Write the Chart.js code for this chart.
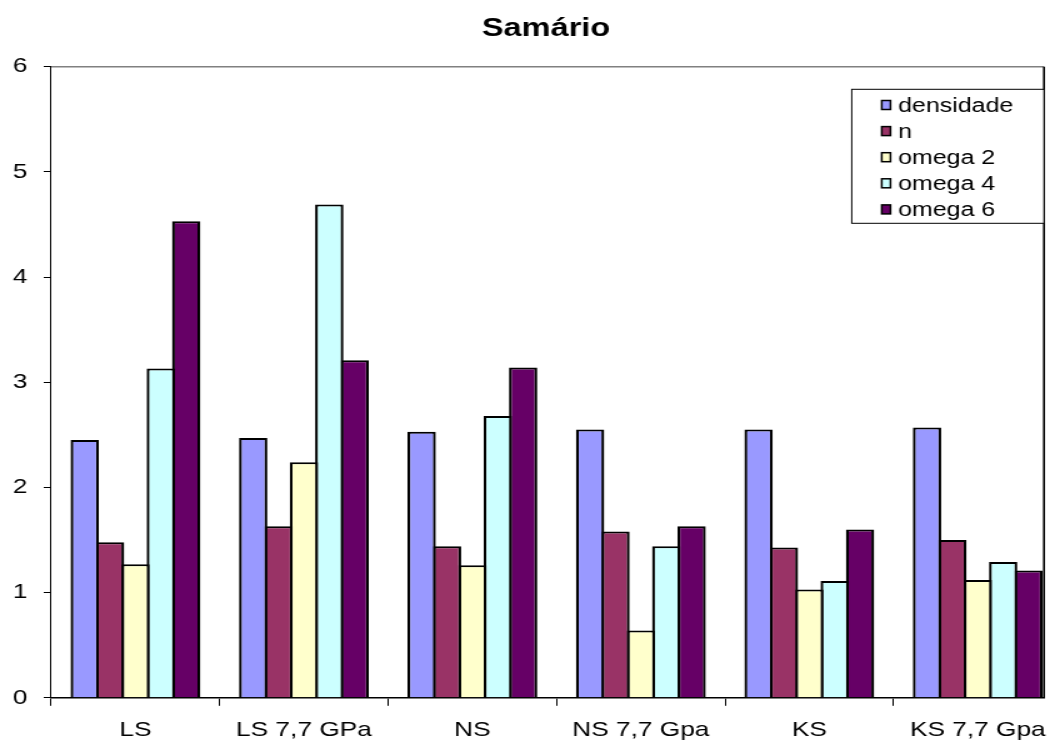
<!DOCTYPE html>
<html>
<head>
<meta charset="utf-8">
<title>Samário</title>
<script src="https://cdn.jsdelivr.net/npm/chart.js@4/dist/chart.umd.min.js"></script>
<style>
  html, body { margin: 0; padding: 0; background: #fff; overflow: hidden; }
  /* the whole drawing is stretched sideways, text included */
  #wrap { width: 873px; height: 740px; transform: scaleX(1.25); transform-origin: 0 0; }
</style>
</head>
<body>
<div id="wrap"><canvas id="myChart" width="873" height="740"></canvas></div>
<script>
let chartTitle = "Samário";
let categories = ["LS", "LS 7,7 GPa", "NS", "NS 7,7 Gpa", "KS", "KS 7,7 Gpa"];
let densidade = [2.45, 2.47, 2.53, 2.55, 2.55, 2.57];
let nValues = [1.48, 1.63, 1.44, 1.58, 1.43, 1.50];
let omega2 = [1.27, 2.24, 1.26, 0.64, 1.03, 1.12];
let omega4 = [3.13, 4.69, 2.68, 1.44, 1.11, 1.29];
let omega6 = [4.53, 3.21, 3.14, 1.63, 1.60, 1.21];
let yMin = 0;
let yMax = 6;

const FONT = "'Liberation Sans', Arial, sans-serif";

function series(label, data, color) {
  return {
    label: label,
    data: data,
    backgroundColor: color,
    borderColor: "#000",
    borderWidth: { top: 2, left: 2.3, right: 2.3, bottom: 0 },
    borderSkipped: false,
    // bars overlap slightly so neighbours share one outline
    categoryPercentage: 0.753,
    barPercentage: 1.118
  };
}

// title, plot frame (grey top, black right edge) and the boxed legend
const framePlugin = {
  id: "frame",
  afterDraw(chart) {
    const ctx = chart.ctx;
    const area = chart.chartArea;
    const rightEdge = 835.2;

    ctx.save();
    ctx.fillStyle = "#fff";
    ctx.fillRect(rightEdge + 0.8, 0, chart.width - rightEdge, area.bottom + 2);

    ctx.fillStyle = "#000";
    ctx.font = "bold 26px " + FONT;
    ctx.textAlign = "center";
    ctx.textBaseline = "middle";
    ctx.fillText(chartTitle, 436.8, 29);

    ctx.strokeStyle = "#808080";
    ctx.lineWidth = 1.6;
    ctx.beginPath();
    ctx.moveTo(area.left, area.top);
    ctx.lineTo(rightEdge, area.top);
    ctx.stroke();

    ctx.strokeStyle = "#000";
    ctx.lineWidth = 1.6;
    ctx.beginPath();
    ctx.moveTo(rightEdge, area.top);
    ctx.lineTo(rightEdge, area.bottom);
    ctx.stroke();

    // legend
    let boxLeft = 681.4, boxTop = 89.3, boxBottom = 223.3;
    ctx.fillStyle = "#fff";
    ctx.fillRect(boxLeft, boxTop, rightEdge - boxLeft, boxBottom - boxTop);
    ctx.strokeStyle = "#000";
    ctx.lineWidth = 1;
    ctx.strokeRect(boxLeft, boxTop, rightEdge - boxLeft, boxBottom - boxTop);

    ctx.font = "20px " + FONT;
    ctx.textBaseline = "middle";
    ctx.textAlign = "left";
    chart.data.datasets.forEach((ds, i) => {
      let cy = 105 + i * 26.1;
      ctx.fillStyle = ds.backgroundColor;
      ctx.fillRect(705.4, cy - 4.5, 7, 9);
      ctx.strokeStyle = "#000";
      ctx.lineWidth = 1.5;
      ctx.strokeRect(705.4, cy - 4.5, 7, 9);
      ctx.fillStyle = "#000";
      ctx.fillText(ds.label, 718.4, cy + 1);
    });
    ctx.restore();
  }
};

let ctx = document.getElementById("myChart").getContext("2d");
let myChart = new Chart(ctx, {
  type: "bar",
  data: {
    labels: categories,
    datasets: [
      series("densidade", densidade, "#9999FF"),
      series("n", nValues, "#993366"),
      series("omega 2", omega2, "#FFFFCC"),
      series("omega 4", omega4, "#CCFFFF"),
      series("omega 6", omega6, "#660066")
    ]
  },
  options: {
    responsive: false,
    animation: false,
    devicePixelRatio: 1,
    layout: {
      padding: { left: -2.7, right: 23.4, top: 66.7, bottom: -15 }
    },
    plugins: {
      legend: { display: false },
      tooltip: { enabled: false },
      title: { display: false }
    },
    scales: {
      x: {
        offset: true,
        grid: {
          offset: true,
          drawOnChartArea: false,
          drawTicks: true,
          tickLength: 8,
          color: "#000",
          lineWidth: 1
        },
        border: { display: true, color: "#000", width: 1.6 },
        ticks: {
          color: "#000",
          padding: 12,
          maxRotation: 0,
          font: { family: FONT, size: 21 }
        }
      },
      y: {
        min: yMin,
        max: yMax,
        grid: {
          drawOnChartArea: false,
          drawTicks: true,
          tickLength: 6,
          color: "#000",
          lineWidth: 1
        },
        border: { display: true, color: "#000", width: 1 },
        ticks: {
          stepSize: 1,
          color: "#000",
          padding: 13,
          font: { family: FONT, size: 21 }
        }
      }
    }
  },
  plugins: [framePlugin]
});
</script>
</body>
</html>
